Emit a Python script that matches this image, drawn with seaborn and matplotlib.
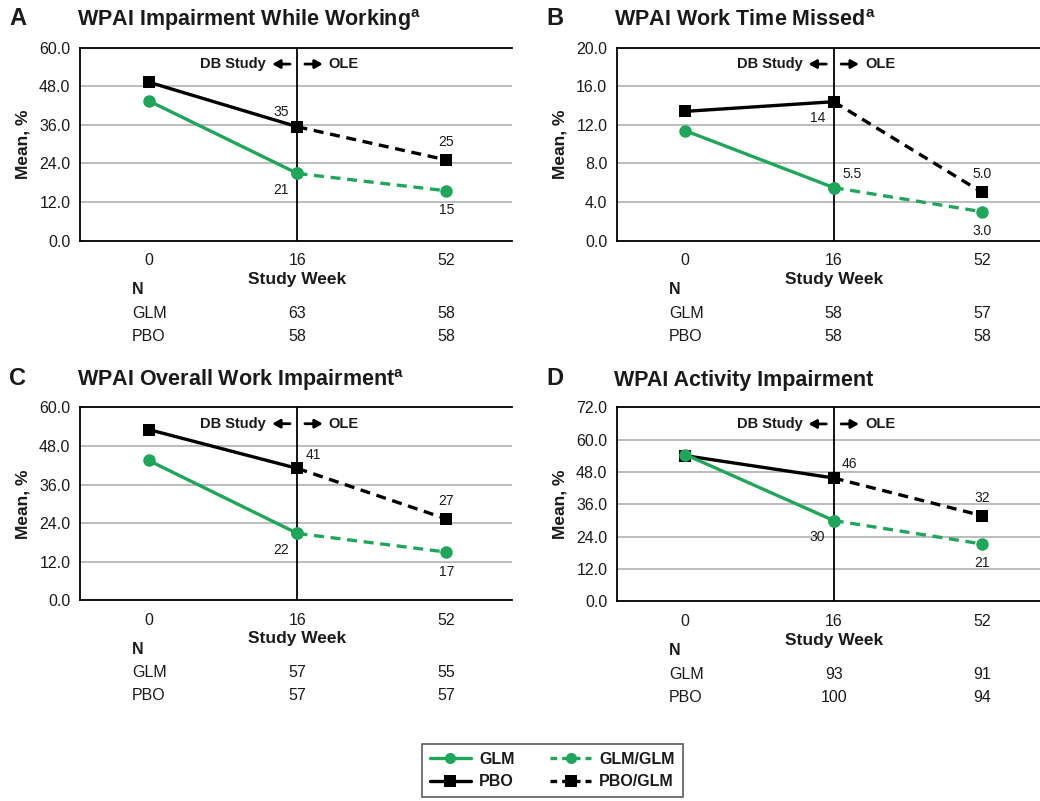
import matplotlib
matplotlib.use("Agg")
import matplotlib.pyplot as plt
import matplotlib.transforms as mtransforms
from matplotlib.lines import Line2D
import seaborn as sns
import pandas as pd

# data
weeks = ["0", "16", "52"]

titles = ["WPAI Impairment While Working$^{\\mathbf{a}}$",
          "WPAI Work Time Missed$^{\\mathbf{a}}$",
          "WPAI Overall Work Impairment$^{\\mathbf{a}}$",
          "WPAI Activity Impairment"]
letters = ["A", "B", "C", "D"]

glm_a = [43.5, 20.9, 15.5]
pbo_a = [49.3, 35.4, 25.1]
glm_b = [11.4, 5.5, 3.0]
pbo_b = [13.4, 14.4, 5.0]
glm_c = [43.5, 20.8, 15.0]
pbo_c = [53.1, 41.0, 25.3]
glm_d = [54.5, 30.0, 21.3]
pbo_d = [54.1, 45.8, 31.8]

lab_glm = [["21", "15"], ["5.5", "3.0"], ["22", "17"], ["30", "21"]]
lab_pbo = [["35", "25"], ["14", "5.0"], ["41", "27"], ["46", "32"]]

n_glm = [["63", "58"], ["58", "57"], ["57", "55"], ["93", "91"]]
n_pbo = [["58", "58"], ["58", "58"], ["57", "57"], ["100", "94"]]

ymax = [60, 20, 60, 72]
ystep = [12, 4, 12, 12]

GREEN = "#1fa65a"
INK = "#1a1a1a"

sns.set_style("white", {"text.color": INK, "axes.labelcolor": INK,
                        "xtick.color": INK, "ytick.color": INK})
plt.rcParams["font.family"] = ["Liberation Sans", "DejaVu Sans"]
plt.rcParams["mathtext.fontset"] = "custom"
plt.rcParams["mathtext.rm"] = "Liberation Sans"
plt.rcParams["mathtext.bf"] = "Liberation Sans:bold"

fig = plt.figure(figsize=(10.4, 8.01), dpi=100)

# axes rectangles in figure fractions
rects = [[0.0769, 0.6995, 0.4154, 0.241],
         [0.5933, 0.6995, 0.4067, 0.241],
         [0.0769, 0.2505, 0.4154, 0.241],
         [0.5933, 0.2493, 0.4067, 0.242]]

glms = [glm_a, glm_b, glm_c, glm_d]
pbos = [pbo_a, pbo_b, pbo_c, pbo_d]

# label placement: (dx, dy, ha) in points for week 16 and 52 points
glm_off = [[(-6, -12, "right"), (0, -14, "center")],
           [(6, 10, "left"), (0, -14, "center")],
           [(-6, -12, "right"), (0, -14, "center")],
           [(-6, -12, "right"), (0, -14, "center")]]
pbo_off = [[(-6, 11, "right"), (0, 13, "center")],
           [(-6, -12, "right"), (0, 13, "center")],
           [(6, 10, "left"), (0, 13, "center")],
           [(6, 10, "left"), (0, 13, "center")]]

LW = 2.4
for i in range(4):
    ax = fig.add_axes(rects[i])
    xs = [0, 1, 2]
    solid = pd.DataFrame({"x": xs[:2], "GLM": glms[i][:2], "PBO": pbos[i][:2]})
    dash = pd.DataFrame({"x": xs[1:], "GLM": glms[i][1:], "PBO": pbos[i][1:]})

    ax.axvline(1, color="black", lw=1.3, zorder=1)

    sns.lineplot(data=dash, x="x", y="PBO", ax=ax, color="black", lw=LW,
                 linestyle=(0, (3, 2)), marker="s", markersize=9, markeredgewidth=0, zorder=3)
    sns.lineplot(data=solid, x="x", y="PBO", ax=ax, color="black", lw=LW,
                 marker="s", markersize=9, markeredgewidth=0, zorder=3)
    sns.lineplot(data=dash, x="x", y="GLM", ax=ax, color=GREEN, lw=LW,
                 linestyle=(0, (3, 2)), marker="o", markersize=9, markeredgewidth=0, zorder=4)
    sns.lineplot(data=solid, x="x", y="GLM", ax=ax, color=GREEN, lw=LW,
                 marker="o", markersize=9, markeredgewidth=0, zorder=4)

    ax.set_xlim(-0.46, 2.44 if i % 2 == 0 else 2.39)
    ax.set_ylim(0, ymax[i])
    ticks = [ystep[i] * k for k in range(int(ymax[i] / ystep[i]) + 1)]
    ax.set_yticks(ticks)
    ax.set_yticklabels([f"{t:.1f}" for t in ticks], fontsize=11.5)
    ax.set_xticks(xs)
    ax.set_xticklabels(weeks, fontsize=11.5)
    ax.tick_params(axis="y", length=0, pad=7)
    ax.tick_params(axis="x", length=0, pad=9)
    ax.yaxis.grid(True, color="#b0b0b0", lw=1.2)
    ax.set_axisbelow(True)
    for s in ["left", "bottom", "top"]:
        ax.spines[s].set_color("black")
        ax.spines[s].set_linewidth(1.3)
    ax.spines["right"].set_visible(False)
    ax.set_xlabel("")
    ax.set_ylabel("Mean, %", fontsize=12.5, fontweight="bold", labelpad=6)

    # value labels
    for j in range(2):
        dx, dy, ha = glm_off[i][j]
        ax.annotate(lab_glm[i][j], (j + 1, glms[i][j + 1]), xytext=(dx, dy),
                    textcoords="offset points", ha=ha, va="center", fontsize=10)
        dx, dy, ha = pbo_off[i][j]
        ax.annotate(lab_pbo[i][j], (j + 1, pbos[i][j + 1]), xytext=(dx, dy),
                    textcoords="offset points", ha=ha, va="center", fontsize=10)

    # DB study / OLE markers
    tr = mtransforms.blended_transform_factory(ax.transData, ax.transAxes)
    ax.text(0.79, 0.915, "DB Study", transform=tr, ha="right", va="center",
            fontsize=10.5, fontweight="bold")
    ax.text(1.21, 0.915, "OLE", transform=tr, ha="left", va="center",
            fontsize=10.5, fontweight="bold")
    arrow = dict(arrowstyle="-|>,head_length=0.45,head_width=0.25", color="black",
                 lw=2, shrinkA=0, shrinkB=0)
    ax.annotate("", xy=(0.83, 0.915), xytext=(0.95, 0.915), xycoords=tr, textcoords=tr,
                arrowprops=arrow)
    ax.annotate("", xy=(1.17, 0.915), xytext=(1.05, 0.915), xycoords=tr, textcoords=tr,
                arrowprops=arrow)

    # x label and N table
    ax.text(1, -0.2, "Study Week", transform=tr, ha="center", va="center",
            fontsize=12.5, fontweight="bold")
    ax.text(-0.11, -0.255, "N", transform=tr, ha="left", va="center",
            fontsize=11.5, fontweight="bold")
    ax.text(-0.11, -0.375, "GLM", transform=tr, ha="left", va="center", fontsize=11.5)
    ax.text(-0.11, -0.494, "PBO", transform=tr, ha="left", va="center", fontsize=11.5)
    for j in range(2):
        ax.text(j + 1, -0.375, n_glm[i][j], transform=tr, ha="center", va="center", fontsize=11.5)
        ax.text(j + 1, -0.494, n_pbo[i][j], transform=tr, ha="center", va="center", fontsize=11.5)

    # panel letter + title
    x0 = rects[i][0]
    ytop = rects[i][1] + rects[i][3] + 0.034
    fig.text(x0 - 0.068, ytop + 0.002, letters[i], fontsize=17,
             fontweight="bold", ha="left", va="center")
    fig.text(x0 - 0.003, ytop, titles[i], fontsize=15.5, fontweight="bold", ha="left", va="center")

handles = [
    Line2D([], [], color=GREEN, lw=LW, marker="o", markersize=8, markeredgewidth=0),
    Line2D([], [], color="black", lw=LW, marker="s", markersize=8, markeredgewidth=0),
    Line2D([], [], color=GREEN, lw=LW, linestyle=(0, (2, 1.5)), marker="o", markersize=8, markeredgewidth=0),
    Line2D([], [], color="black", lw=LW, linestyle=(0, (2, 1.5)), marker="s", markersize=8, markeredgewidth=0),
]
leg = fig.legend(handles, ["GLM", "PBO", "GLM/GLM", "PBO/GLM"], ncol=2, loc="center",
                 bbox_to_anchor=(0.531, 0.038), frameon=True, fancybox=False,
                 prop={"weight": "bold", "size": 11.5}, handlelength=2.6, columnspacing=2.2,
                 borderpad=0.5, labelspacing=0.45, handletextpad=0.5)
leg.get_frame().set_edgecolor("#333333")
leg.get_frame().set_linewidth(1.2)

fig.savefig("out.png", dpi=100)
